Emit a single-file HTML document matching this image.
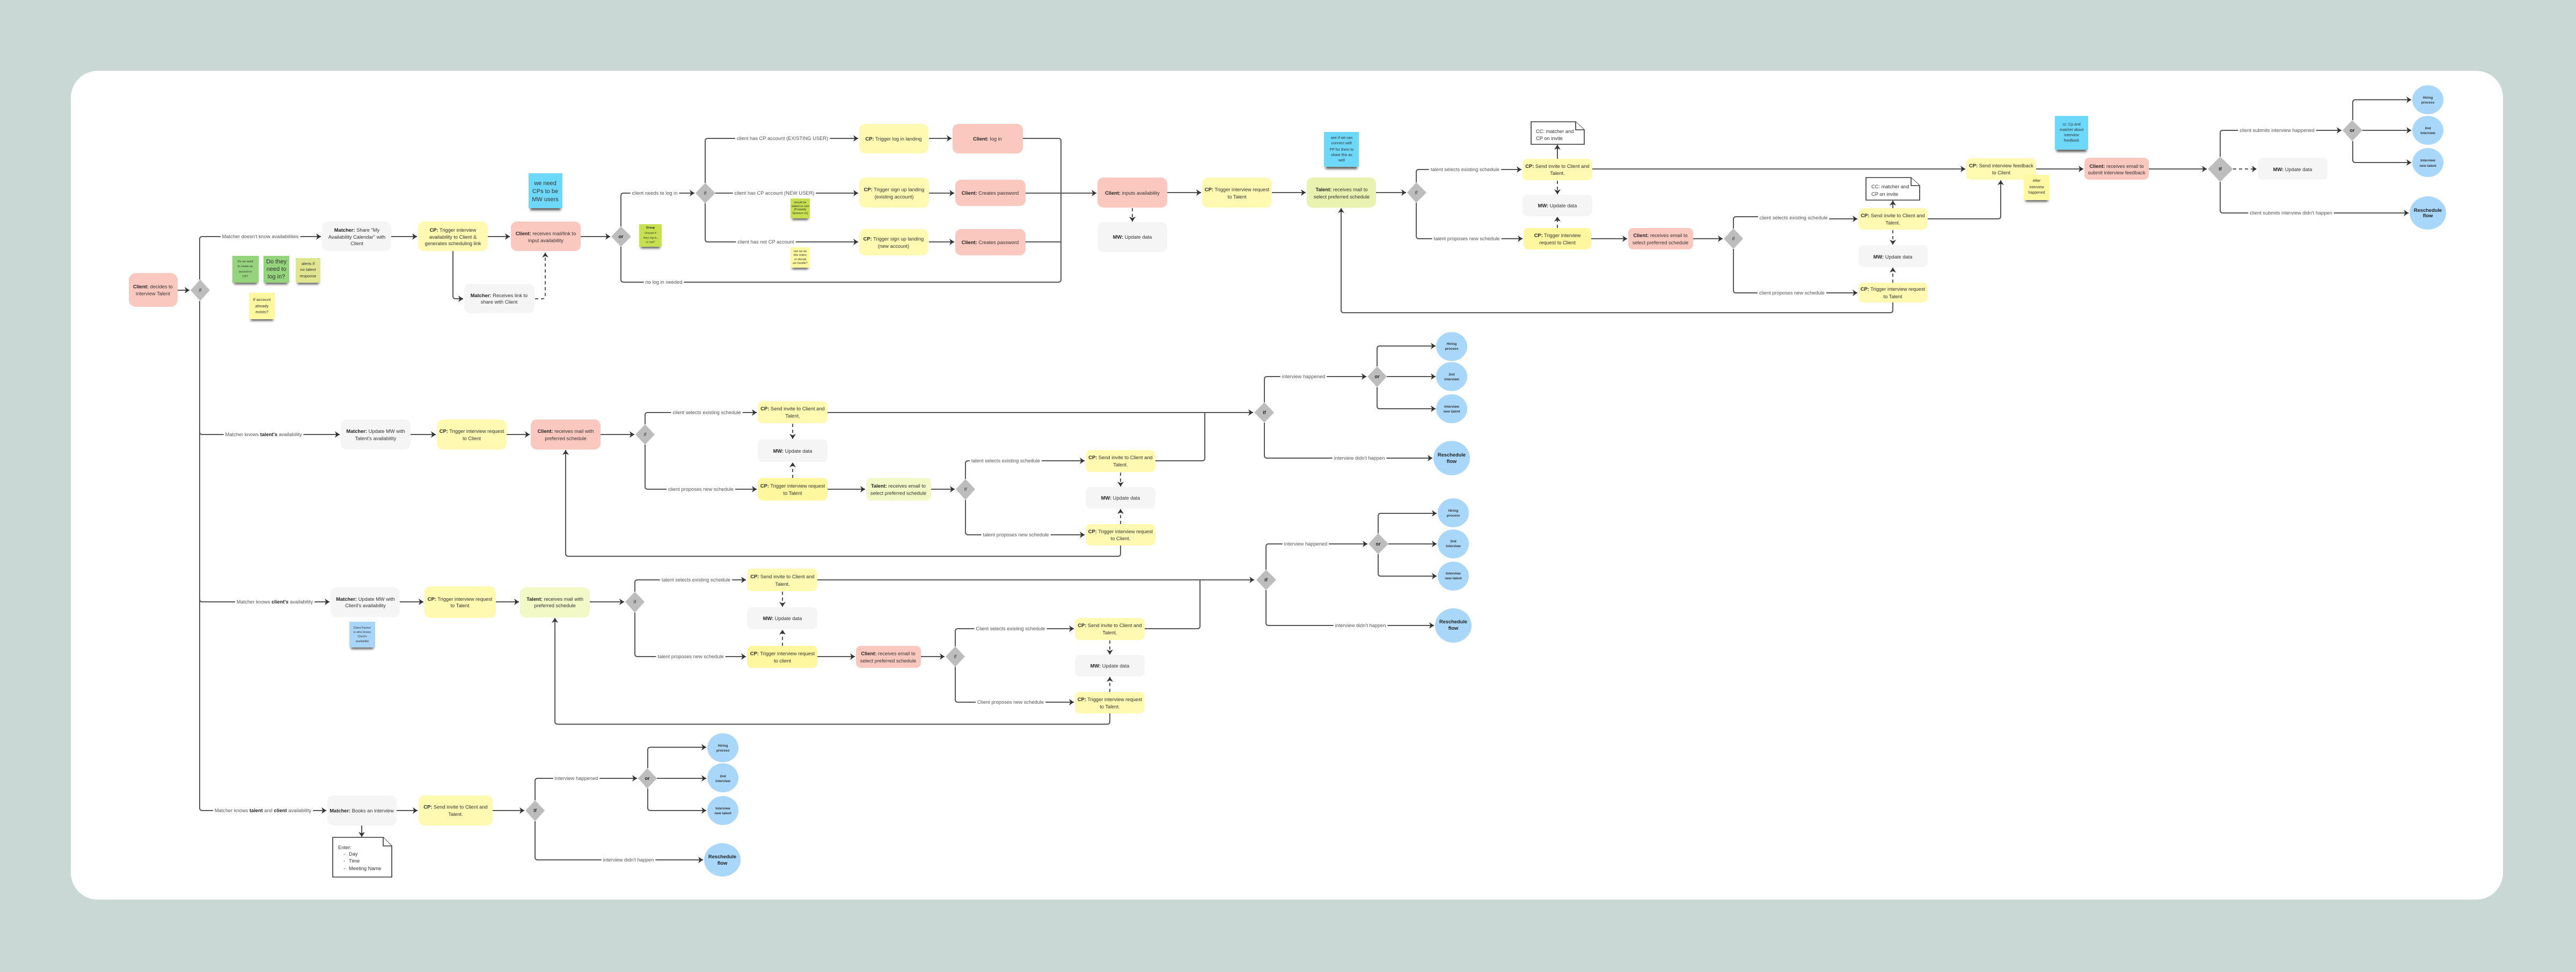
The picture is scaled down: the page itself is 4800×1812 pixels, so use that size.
<!DOCTYPE html>
<html lang="en"><head><meta charset="utf-8"><title>Interview scheduling flow</title>
<style>
html,body{margin:0;padding:0;background:#c9d8d4}
svg{display:block}
text{font-family:"Liberation Sans",sans-serif;font-size:9.3px;text-anchor:middle;fill:#333}
.b{font-weight:700;fill:#222}
.l{fill:none;stroke:#555;stroke-width:2;marker-end:url(#a)}
.n{fill:none;stroke:#555;stroke-width:2}
.d{fill:none;stroke:#555;stroke-width:2;stroke-dasharray:6 5;marker-end:url(#a)}
.lb{fill:#555;paint-order:stroke;stroke:#fff;stroke-width:7px;stroke-linejoin:round}
.cl{fill:#fbc8bf}.cp{fill:#fff9b1}.cq{fill:#fff6a0}.mw{fill:#f5f5f5}.ta{fill:#eaf2b0}.tb{fill:#f3f9c6}
.df{fill:#bdbdbd}.ci{fill:#a9d7fa}
.doc{fill:#fff;stroke:#333;stroke-width:1.6}
.sh{fill:#555;filter:url(#bl)}
.s6{font-size:5.4px}.s7{font-size:7px}.s8{font-size:7.6px}.s11{font-size:11px}.s12{font-size:12px}.c7{font-size:6.4px;font-weight:700;fill:#333}
.le{text-anchor:start}
</style></head><body>
<svg xmlns="http://www.w3.org/2000/svg" width="4800" height="1812" viewBox="0 0 4800 1812">
<defs>
<marker id="a" markerUnits="userSpaceOnUse" markerWidth="12" markerHeight="14" refX="9" refY="6" orient="auto"><path d="M0 0L9 6L0 12L2.5 6Z" fill="#333"/></marker>
<filter id="bl" x="-30%" y="-100%" width="160%" height="300%"><feGaussianBlur stdDeviation="2"/></filter>
</defs>
<rect width="4800" height="1812" fill="#c9d8d4"/>
<rect x="132" y="132" width="4532" height="1545" rx="50" fill="#fff"/>

<!-- connectors -->
<g>
<path class="l" d="M331 541H353"/>
<path class="l" d="M372 521V446Q372 441 377 441H598"/>
<path class="l" d="M372 561V1506Q372 1511 377 1511H608"/>
<path class="l" d="M372 805Q372 810 377 810H633"/>
<path class="l" d="M372 1117Q372 1122 377 1122H614"/>
<path class="l" d="M729 441H777"/><path class="l" d="M909 441H950"/><path class="l" d="M1082 441H1137"/>
<path class="l" d="M844 468V552Q844 557 849 557H863"/>
<path class="d" d="M997 557H1011Q1016 557 1016 552V471"/>
<path class="l" d="M1157 422V365Q1157 360 1162 360H1294"/>
<path class="l" d="M1333 360H1599"/>
<path class="l" d="M1314 341V263Q1314 258 1319 258H1599"/>
<path class="l" d="M1314 379V446Q1314 451 1319 451H1599"/>
<path class="n" d="M1157 460V521Q1157 526 1162 526H1972Q1977 526 1977 521V263Q1977 258 1972 258H1906"/>
<path class="l" d="M1731 258H1773"/><path class="l" d="M1731 360H1778"/><path class="l" d="M1731 451H1778"/>
<path class="l" d="M1911 360H2043"/><path class="n" d="M1911 451H1977"/>
<path class="l" d="M2175 359H2238"/><path class="l" d="M2370 359H2433"/><path class="l" d="M2564 359H2620"/>
<path class="d" d="M2110 388V413"/>
<path class="l" d="M2639 340V321Q2639 316 2644 316H2835"/>
<path class="l" d="M2639 378V440Q2639 445 2644 445H2837"/>
<path class="d" d="M2902 337V362"/><path class="d" d="M2902 425V404"/>
<path class="l" d="M2902 296V270"/>
<path class="l" d="M2967 315H3662"/>
<path class="l" d="M2965 445H3032"/><path class="l" d="M3155 445H3210"/>
<path class="n" d="M3230 426V409Q3230 404 3235 404H3340"/><path class="l" d="M3340 408H3461"/>
<path class="l" d="M3230 464V541Q3230 546 3235 546H3461"/>
<path class="l" d="M3527 388V374"/>
<path class="d" d="M3527 429V456"/><path class="d" d="M3527 527V499"/>
<path class="l" d="M3592 408H3723Q3728 408 3728 403V336"/>
<path class="l" d="M3527 564V578Q3527 583 3522 583H2504Q2499 583 2499 578V388"/>
<path class="l" d="M3794 315H3882"/><path class="l" d="M4004 315H4112"/>
<path class="d" d="M4161 315H4205"/>
<path class="l" d="M4137 292V248Q4137 243 4142 243H4363"/>
<path class="l" d="M4137 339V392Q4137 397 4142 397H4488"/>
<path class="l" d="M4384 224V191Q4384 186 4389 186H4493"/><path class="l" d="M4402 243H4493"/>
<path class="l" d="M4384 263V298Q4384 303 4389 303H4493"/>

<path class="l" d="M765 810H812"/><path class="l" d="M944 810H987"/><path class="l" d="M1119 810H1182"/>
<path class="l" d="M1202 791V774Q1202 769 1207 769H1410"/>
<path class="l" d="M1202 829V907Q1202 912 1207 912H1410"/>
<path class="d" d="M1477 790V818"/><path class="d" d="M1477 891V862"/>
<path class="l" d="M1542 769H2335"/>
<path class="l" d="M1542 912H1612"/><path class="l" d="M1735 912H1779"/>
<path class="l" d="M1799 893V864Q1799 859 1804 859H2021"/>
<path class="l" d="M1799 932V992Q1799 997 1804 997H2021"/>
<path class="d" d="M2088 881V907"/><path class="d" d="M2088 977V949"/>
<path class="n" d="M2153 859H2240Q2245 859 2245 854V769"/>
<path class="l" d="M2088 1017V1032Q2088 1037 2083 1037H1059Q1054 1037 1054 1032V839"/>
<path class="l" d="M2356 750V707Q2356 702 2361 702H2546"/>
<path class="l" d="M2356 788V849Q2356 854 2361 854H2669"/>
<path class="l" d="M2566 683V650Q2566 645 2571 645H2675"/><path class="l" d="M2584 702H2675"/>
<path class="l" d="M2566 722V757Q2566 762 2571 762H2675"/>

<path class="l" d="M745 1122H789"/><path class="l" d="M924 1122H967"/><path class="l" d="M1099 1122H1163"/>
<path class="l" d="M1183 1103V1086Q1183 1081 1188 1081H1390"/>
<path class="l" d="M1183 1142V1219Q1183 1224 1188 1224H1390"/>
<path class="d" d="M1458 1103V1131"/><path class="d" d="M1458 1204V1174"/>
<path class="l" d="M1523 1081H2337"/>
<path class="l" d="M1523 1224H1593"/><path class="l" d="M1716 1224H1760"/>
<path class="l" d="M1780 1205V1177Q1780 1172 1785 1172H2001"/>
<path class="l" d="M1780 1243V1304Q1780 1309 1785 1309H2001"/>
<path class="d" d="M2068 1194V1220"/><path class="d" d="M2068 1290V1262"/>
<path class="n" d="M2133 1172H2231Q2236 1172 2236 1167V1081"/>
<path class="l" d="M2068 1330V1345Q2068 1350 2063 1350H1039Q1034 1350 1034 1345V1152"/>
<path class="l" d="M2359 1062V1019Q2359 1014 2364 1014H2548"/>
<path class="l" d="M2359 1100V1161Q2359 1166 2364 1166H2672"/>
<path class="l" d="M2568 994V962Q2568 957 2573 957H2677"/><path class="l" d="M2587 1014H2677"/>
<path class="l" d="M2568 1033V1069Q2568 1074 2573 1074H2677"/>

<path class="l" d="M739 1511H778"/><path class="l" d="M918 1511H977"/>
<path class="l" d="M997 1492V1456Q997 1451 1002 1451H1187"/>
<path class="l" d="M997 1531V1598Q997 1603 1002 1603H1310"/>
<path class="l" d="M1207 1432V1398Q1207 1393 1212 1393H1316"/><path class="l" d="M1224 1451H1316"/>
<path class="l" d="M1207 1470V1506Q1207 1511 1212 1511H1316"/>
<path class="l" d="M674 1539V1560"/>
</g>

<!-- connector labels -->
<g>
<text class="lb" x="485" y="444">Matcher doesn't know availabilities</text>
<text class="lb" x="491" y="813">Matcher knows <tspan class="b">talent's</tspan> availability</text>
<text class="lb" x="512" y="1125">Matcher knows <tspan class="b">client's</tspan> availability</text>
<text class="lb" x="490" y="1514">Matcher knows <tspan class="b">talent</tspan> and <tspan class="b">client</tspan> availability</text>
<text class="lb" x="1220" y="363">client needs to log in</text>
<text class="lb" x="1458" y="261">client has CP account (EXISTING USER)</text>
<text class="lb" x="1443" y="363">client has CP account (NEW USER)</text>
<text class="lb" x="1427" y="454">client has not CP account</text>
<text class="lb" x="1237" y="529">no log in needed</text>
<text class="lb" x="2730" y="319">talent selects existing schedule</text>
<text class="lb" x="2733" y="448">talent proposes new schedule</text>
<text class="lb" x="3342" y="409">client selects existing schedule</text>
<text class="lb" x="3339" y="549">client proposes new schedule</text>
<text class="lb" x="4243" y="246">client submits interview happened</text>
<text class="lb" x="4269" y="400">client submits interview didn't happen</text>
<text class="lb" x="1317" y="772">client selects existing schedule</text>
<text class="lb" x="1306" y="915">client proposes new schedule</text>
<text class="lb" x="1874" y="862">talent selects existing schedule</text>
<text class="lb" x="1893" y="1000">talent proposes new schedule</text>
<text class="lb" x="2429" y="705">interview happened</text>
<text class="lb" x="2533" y="857">interview didn't happen</text>
<text class="lb" x="1297" y="1084">talent selects existing schedule</text>
<text class="lb" x="1287" y="1227">talent proposes new schedule</text>
<text class="lb" x="1883" y="1175">Client selects existing schedule</text>
<text class="lb" x="1883" y="1312">Client proposes new schedule</text>
<text class="lb" x="2433" y="1017">interview happened</text>
<text class="lb" x="2535" y="1169">interview didn't happen</text>
<text class="lb" x="1074" y="1454">interview happened</text>
<text class="lb" x="1171" y="1606">interview didn't happen</text>
</g>

<!-- nodes row 1 -->
<g>
<rect class="cl" x="240" y="509" width="91" height="63" rx="13"/><text x="285" y="537.5"><tspan class="b">Client:</tspan> decides to</text><text x="285" y="550.5">interview Talent</text>
<rect class="mw" x="600" y="413" width="129" height="55" rx="11"/><text x="665" y="432"><tspan class="b">Matcher:</tspan> Share "My</text><text x="665" y="445">Availability Calendar" with</text><text x="665" y="457">Client</text>
<rect class="cp" x="779" y="413" width="130" height="55" rx="11"/><text x="844" y="432"><tspan class="b">CP:</tspan> Trigger interview</text><text x="844" y="445">availability to Client &amp;</text><text x="844" y="457">generates scheduling link</text>
<rect class="cl" x="952" y="413" width="130" height="55" rx="11"/><text x="1017" y="438.500"><tspan class="b">Client:</tspan> receives mail/link to</text><text x="1017" y="451.500">input availability</text>
<rect class="mw" x="865" y="529" width="131" height="55" rx="11"/><text x="930" y="554"><tspan class="b">Matcher:</tspan> Receives link to</text><text x="930" y="566">share with Client</text>

<rect class="cp" x="1601" y="231" width="129" height="55" rx="11"/><text x="1665" y="262"><tspan class="b">CP:</tspan> Trigger log in landing</text>
<rect class="cl" x="1775" y="231" width="131" height="55" rx="11"/><text x="1840" y="262"><tspan class="b">Client:</tspan> log in</text>
<rect class="cp" x="1601" y="331" width="130" height="56" rx="11"/><text x="1666" y="356.500"><tspan class="b">CP:</tspan> Trigger sign up landing</text><text x="1666" y="370">(existing account)</text>
<rect class="cl" x="1780" y="335" width="131" height="49" rx="11"/><text x="1845" y="363"><tspan class="b">Client:</tspan> Creates password</text>
<rect class="cp" x="1601" y="427" width="129" height="49" rx="11"/><text x="1665" y="448.500"><tspan class="b">CP:</tspan> Trigger sign up landing</text><text x="1665" y="462">(new account)</text>
<rect class="cl" x="1780" y="427" width="131" height="49" rx="11"/><text x="1845" y="455"><tspan class="b">Client:</tspan> Creates password</text>

<rect class="cl" x="2045" y="331" width="130" height="56" rx="11"/><text x="2110" y="363"><tspan class="b">Client:</tspan> inputs availability</text>
<rect class="mw" x="2045" y="414" width="130" height="56" rx="11"/><text x="2110" y="445"><tspan class="b">MW:</tspan> Update data</text>
<rect class="cp" x="2240" y="331" width="130" height="56" rx="11"/><text x="2305" y="356.500"><tspan class="b">CP:</tspan> Trigger interview request</text><text x="2305" y="370">to Talent</text>
<rect class="ta" x="2435" y="331" width="129" height="56" rx="11"/><text x="2500" y="356.500"><tspan class="b">Talent:</tspan> receives mail to</text><text x="2500" y="370">select preferred schedule</text>

<rect class="cp" x="2837" y="296" width="130" height="40" rx="9"/><text x="2902" y="313"><tspan class="b">CP:</tspan> Send invite to Client and</text><text x="2902" y="326">Talent.</text>
<rect class="mw" x="2837" y="363" width="130" height="40" rx="9"/><text x="2902" y="386.500"><tspan class="b">MW:</tspan> Update data</text>
<rect class="cq" x="2839" y="425" width="126" height="40" rx="9"/><text x="2902" y="442"><tspan class="b">CP:</tspan> Trigger interview</text><text x="2902" y="455.500">request to Client</text>
<rect class="cl" x="3034" y="425" width="121" height="40" rx="9"/><text x="3094" y="442"><tspan class="b">Client:</tspan> receives email to</text><text x="3094" y="455.500">select preferred schedule</text>
<rect class="cp" x="3463" y="388" width="129" height="40" rx="9"/><text x="3527" y="405"><tspan class="b">CP:</tspan> Send invite to Client and</text><text x="3527" y="418.500">Talent.</text>
<rect class="mw" x="3463" y="457" width="129" height="41" rx="9"/><text x="3527" y="482"><tspan class="b">MW:</tspan> Update data</text>
<rect class="cp" x="3463" y="527" width="129" height="37" rx="9"/><text x="3527" y="542"><tspan class="b">CP:</tspan> Trigger interview request</text><text x="3527" y="556">to Talent</text>
<rect class="cp" x="3664" y="295" width="130" height="40" rx="9"/><text x="3729" y="312"><tspan class="b">CP:</tspan> Send interview feedback</text><text x="3729" y="325">to Client</text>
<rect class="cl" x="3884" y="294" width="120" height="41" rx="9"/><text x="3944" y="313"><tspan class="b">Client:</tspan> receives email to</text><text x="3944" y="325">submit interview feedback</text>
<rect class="mw" x="4207" y="294" width="130" height="41" rx="9"/><text x="4272" y="319"><tspan class="b">MW:</tspan> Update data</text>
</g>

<!-- nodes row 2 -->
<g>
<rect class="mw" x="635" y="782" width="130" height="56" rx="11"/><text x="700" y="807"><tspan class="b">Matcher:</tspan> Update MW with</text><text x="700" y="820.500">Talent's availability</text>
<rect class="cp" x="814" y="782" width="130" height="56" rx="11"/><text x="879" y="807"><tspan class="b">CP:</tspan> Trigger interview request</text><text x="879" y="820.500">to Client</text>
<rect class="cl" x="989" y="782" width="130" height="56" rx="11"/><text x="1054" y="807"><tspan class="b">Client:</tspan> receives mail with</text><text x="1054" y="820.500">preferred schedule</text>
<rect class="cp" x="1412" y="748" width="130" height="41" rx="9"/><text x="1477" y="765"><tspan class="b">CP:</tspan> Send invite to Client and</text><text x="1477" y="778.500">Talent.</text>
<rect class="mw" x="1412" y="819" width="130" height="42" rx="9"/><text x="1477" y="844"><tspan class="b">MW:</tspan> Update data</text>
<rect class="cq" x="1412" y="891" width="130" height="42" rx="9"/><text x="1477" y="909"><tspan class="b">CP:</tspan> Trigger interview request</text><text x="1477" y="922.500">to Talent</text>
<rect class="tb" x="1614" y="891" width="121" height="42" rx="9"/><text x="1674" y="909"><tspan class="b">Talent:</tspan> receives email to</text><text x="1674" y="922.500">select preferred schedule</text>
<rect class="cp" x="2023" y="839" width="130" height="41" rx="9"/><text x="2088" y="856"><tspan class="b">CP:</tspan> Send invite to Client and</text><text x="2088" y="869.500">Talent.</text>
<rect class="mw" x="2023" y="908" width="130" height="40" rx="9"/><text x="2088" y="931.500"><tspan class="b">MW:</tspan> Update data</text>
<rect class="cp" x="2023" y="977" width="130" height="40" rx="9"/><text x="2088" y="994"><tspan class="b">CP:</tspan> Trigger interview request</text><text x="2088" y="1007">to Client.</text>
</g>

<!-- nodes row 3 -->
<g>
<rect class="mw" x="616" y="1095" width="129" height="56" rx="11"/><text x="681" y="1120"><tspan class="b">Matcher:</tspan> Update MW with</text><text x="681" y="1132">Client's availability</text>
<rect class="cp" x="791" y="1093" width="133" height="59" rx="11"/><text x="857" y="1120"><tspan class="b">CP:</tspan> Trigger interview request</text><text x="857" y="1132">to Talent</text>
<rect class="tb" x="969" y="1095" width="130" height="56" rx="11"/><text x="1034" y="1120"><tspan class="b">Talent:</tspan> receives mail with</text><text x="1034" y="1132">preferred schedule</text>
<rect class="cp" x="1392" y="1060" width="131" height="42" rx="9"/><text x="1458" y="1078"><tspan class="b">CP:</tspan> Send invite to Client and</text><text x="1458" y="1092">Talent.</text>
<rect class="mw" x="1392" y="1132" width="131" height="41" rx="9"/><text x="1458" y="1156"><tspan class="b">MW:</tspan> Update data</text>
<rect class="cq" x="1392" y="1204" width="131" height="41" rx="9"/><text x="1458" y="1221.500"><tspan class="b">CP:</tspan> Trigger interview request</text><text x="1458" y="1235">to client</text>
<rect class="cl" x="1595" y="1204" width="121" height="41" rx="9"/><text x="1655" y="1221.500"><tspan class="b">Client:</tspan> receives email to</text><text x="1655" y="1235">select preferred schedule</text>
<rect class="cp" x="2003" y="1152" width="130" height="41" rx="9"/><text x="2068" y="1169"><tspan class="b">CP:</tspan> Send invite to Client and</text><text x="2068" y="1182.500">Talent.</text>
<rect class="mw" x="2003" y="1221" width="130" height="40" rx="9"/><text x="2068" y="1244.500"><tspan class="b">MW:</tspan> Update data</text>
<rect class="cp" x="2003" y="1290" width="130" height="40" rx="9"/><text x="2068" y="1307"><tspan class="b">CP:</tspan> Trigger interview request</text><text x="2068" y="1320.500">to Talent.</text>
</g>

<!-- nodes row 4 -->
<g>
<rect class="mw" x="610" y="1483" width="129" height="56" rx="11"/><text x="674" y="1514.500"><tspan class="b">Matcher:</tspan> Books an interview</text>
<rect class="cp" x="780" y="1483" width="138" height="56" rx="11"/><text x="849" y="1507.500"><tspan class="b">CP:</tspan> Send invite to Client and</text><text x="849" y="1521">Talent.</text>
</g>

<!-- diamonds -->
<g>
<path class="df" d="M373 521L391 541L373 561L355 541Z"/><text x="373" y="544">if</text>
<path class="df" d="M1157 422L1176 441L1157 460L1139 441Z"/><text class="b" x="1157" y="444">or</text>
<path class="df" d="M1314 341L1333 360L1314 379L1296 360Z"/><text x="1314" y="363">if</text>
<path class="df" d="M2639 340L2658 359L2639 378L2622 359Z"/><text x="2639" y="362">if</text>
<path class="df" d="M3230 426L3248 445L3230 464L3212 445Z"/><text x="3230" y="448">if</text>
<path class="df" d="M4137 292L4161 315L4137 339L4114 315Z"/><text class="b" x="4137" y="318">if</text>
<path class="df" d="M4383 224L4402 243L4383 263L4365 243Z"/><text class="b" x="4383" y="246">or</text>
<path class="df" d="M1202 791L1220 810L1202 829L1184 810Z"/><text x="1202" y="813">if</text>
<path class="df" d="M1799 893L1817 912L1799 932L1781 912Z"/><text x="1799" y="915">if</text>
<path class="df" d="M2356 750L2374 769L2356 788L2337 769Z"/><text class="b" x="2356" y="772">if</text>
<path class="df" d="M2566 683L2584 702L2566 722L2548 702Z"/><text class="b" x="2566" y="705">or</text>
<path class="df" d="M1183 1103L1201 1122L1183 1142L1165 1122Z"/><text x="1183" y="1125">if</text>
<path class="df" d="M1780 1205L1798 1224L1780 1243L1762 1224Z"/><text x="1780" y="1227">if</text>
<path class="df" d="M2359 1062L2378 1081L2359 1100L2341 1081Z"/><text class="b" x="2359" y="1084">if</text>
<path class="df" d="M2568 994L2587 1014L2568 1033L2550 1014Z"/><text class="b" x="2568" y="1017">or</text>
<path class="df" d="M997 1492L1015 1511L997 1531L979 1511Z"/><text class="b" x="997" y="1514">if</text>
<path class="df" d="M1206 1432L1224 1451L1206 1470L1189 1451Z"/><text class="b" x="1206" y="1454">or</text>
</g>

<!-- circles -->
<g>
<ellipse class="ci" cx="4524" cy="186" rx="29" ry="27"/><text class="c7" x="4524" y="184">Hiring</text><text class="c7" x="4524" y="193">process</text>
<ellipse class="ci" cx="4524" cy="243" rx="29" ry="27"/><text class="c7" x="4524" y="241">2nd</text><text class="c7" x="4524" y="250">interview</text>
<ellipse class="ci" cx="4524" cy="303" rx="29" ry="27"/><text class="c7" x="4524" y="301">Interview</text><text class="c7" x="4524" y="311">new talent</text>
<ellipse class="ci" cx="4524" cy="397" rx="34" ry="31"/><text class="b" x="4524" y="395">Reschedule</text><text class="b" x="4524" y="405">flow</text>

<ellipse class="ci" cx="2705" cy="646" rx="29" ry="27"/><text class="c7" x="2705" y="643">Hiring</text><text class="c7" x="2705" y="652">process</text>
<ellipse class="ci" cx="2705" cy="702" rx="29" ry="27"/><text class="c7" x="2705" y="700">2nd</text><text class="c7" x="2705" y="709">interview</text>
<ellipse class="ci" cx="2705" cy="762" rx="29" ry="27"/><text class="c7" x="2705" y="760">Interview</text><text class="c7" x="2705" y="769">new talent</text>
<ellipse class="ci" cx="2705" cy="854" rx="34" ry="32"/><text class="b" x="2705" y="851">Reschedule</text><text class="b" x="2705" y="863">flow</text>

<ellipse class="ci" cx="2708" cy="956" rx="29" ry="27"/><text class="c7" x="2708" y="954">Hiring</text><text class="c7" x="2708" y="963">process</text>
<ellipse class="ci" cx="2708" cy="1014" rx="29" ry="27"/><text class="c7" x="2708" y="1011">2nd</text><text class="c7" x="2708" y="1020">interview</text>
<ellipse class="ci" cx="2708" cy="1074" rx="29" ry="27"/><text class="c7" x="2708" y="1071">Interview</text><text class="c7" x="2708" y="1080">new talent</text>
<ellipse class="ci" cx="2708" cy="1166" rx="34" ry="32"/><text class="b" x="2708" y="1162">Reschedule</text><text class="b" x="2708" y="1174">flow</text>

<ellipse class="ci" cx="1347" cy="1394" rx="29" ry="27"/><text class="c7" x="1347" y="1392">Hiring</text><text class="c7" x="1347" y="1401">process</text>
<ellipse class="ci" cx="1347" cy="1450" rx="29" ry="27"/><text class="c7" x="1347" y="1449">2nd</text><text class="c7" x="1347" y="1458">interview</text>
<ellipse class="ci" cx="1347" cy="1511" rx="29" ry="27"/><text class="c7" x="1347" y="1509">Interview</text><text class="c7" x="1347" y="1518">new talent</text>
<ellipse class="ci" cx="1346" cy="1603" rx="34" ry="31"/><text class="b" x="1346" y="1600">Reschedule</text><text class="b" x="1346" y="1612">flow</text>
</g>

<!-- documents -->
<g>
<path class="doc" d="M2853 227H2936L2952 242V269H2853Z"/><path class="doc" d="M2936 227V242H2952"/>
<text class="le" x="2862" y="248">CC: matcher and</text><text class="le" x="2862" y="261">CP on invite</text>
<path class="doc" d="M3477 331H3561L3577 346V373H3477Z"/><path class="doc" d="M3561 331V346H3577"/>
<text class="le" x="3487" y="351">CC: matcher and</text><text class="le" x="3487" y="365">CP on invite</text>
<path class="doc" d="M620 1561H714L730 1577V1635H620Z"/><path class="doc" d="M714 1561V1577H730"/>
<text class="le" x="630" y="1583">Enter:</text>
<text class="le" x="640" y="1595">-</text><text class="le" x="650" y="1595">Day</text>
<text class="le" x="640" y="1608">-</text><text class="le" x="650" y="1608">Time</text>
<text class="le" x="640" y="1622">-</text><text class="le" x="650" y="1622">Meeting Name</text>
</g>

<!-- sticky notes -->
<g>
<rect class="sh" x="988" y="386" width="57" height="6"/><rect x="985" y="323" width="63" height="65" fill="#6ed8fa"/>
<text class="s11" x="1016" y="345">we need</text><text class="s11" x="1016" y="360">CPs to be</text><text class="s11" x="1016" y="375">MW users</text>

<rect class="sh" x="436" y="525" width="43" height="5"/><rect x="433" y="477" width="49" height="50" fill="#95d47c"/>
<text class="s6" x="457" y="489">Do we need</text><text class="s6" x="457" y="498">to create an</text><text class="s6" x="457" y="508">account in</text><text class="s6" x="457" y="517">CP?</text>
<rect class="sh" x="494" y="525" width="42" height="5"/><rect x="491" y="477" width="48" height="50" fill="#95d47c"/>
<text class="s11" x="515" y="491">Do they</text><text class="s11" x="515" y="505">need to</text><text class="s11" x="515" y="519">log in?</text>
<rect class="sh" x="554" y="525" width="40" height="5"/><rect x="551" y="481" width="46" height="46" fill="#dfe68f"/>
<text class="s8" x="574" y="494">alerts if</text><text class="s8" x="574" y="505">no talent</text><text class="s8" x="574" y="517">response</text>
<rect class="sh" x="467" y="593" width="42" height="5"/><rect x="464" y="546" width="48" height="49" fill="#fef9a0"/>
<text class="s8" x="488" y="561">If account</text><text class="s8" x="488" y="573">already</text><text class="s8" x="488" y="584">exists?</text>

<rect class="sh" x="1194" y="458" width="36" height="5"/><rect x="1191" y="418" width="42" height="42" fill="#c6e04f"/>
<text class="s6 b" x="1212" y="426">Group</text><text class="s6" x="1212" y="436">Unsure if</text><text class="s6" x="1212" y="445">they log in,</text><text class="s6" x="1212" y="453">or not?</text>
<rect class="sh" x="1476" y="405" width="30" height="5"/><rect x="1473" y="370" width="36" height="37" fill="#c6e04f"/>
<text class="s6" x="1491" y="379">should be</text><text class="s6" x="1491" y="386">added on last</text><text class="s6" x="1491" y="392">(Probably</text><text class="s6" x="1491" y="399">Sponsor on)</text>
<rect class="sh" x="1476" y="497" width="30" height="5"/><rect x="1473" y="461" width="36" height="38" fill="#fef9a0"/>
<text class="s6" x="1491" y="470">can we do</text><text class="s6" x="1491" y="477">this online</text><text class="s6" x="1491" y="485">or should</text><text class="s6" x="1491" y="492">we handle?</text>

<rect class="sh" x="2470" y="309" width="59" height="6"/><rect x="2467" y="246" width="65" height="65" fill="#6ed8fa"/>
<text class="s7" x="2500" y="259">see if we can</text><text class="s7" x="2500" y="269">connect with</text><text class="s7" x="2500" y="281">FP for them to</text><text class="s7" x="2500" y="291">share this as</text><text class="s7" x="2500" y="301">well</text>

<rect class="sh" x="3774" y="371" width="42" height="5"/><rect x="3771" y="326" width="48" height="47" fill="#fef9a0"/>
<text class="s7" x="3795" y="339">After</text><text class="s7" x="3795" y="351">interview</text><text class="s7" x="3795" y="361">happened</text>
<rect class="sh" x="3832" y="277" width="56" height="6"/><rect x="3829" y="216" width="62" height="63" fill="#6ed8fa"/>
<text class="s7" x="3860" y="234">cc: Cp and</text><text class="s7" x="3860" y="244">matcher about</text><text class="s7" x="3860" y="254">interview</text><text class="s7" x="3860" y="264">feedback</text>

<rect class="sh" x="654" y="1205" width="42" height="5"/><rect x="651" y="1159" width="48" height="48" fill="#a9d6f8"/>
<text class="s6" x="675" y="1172">Client Partner</text><text class="s6" x="675" y="1180">is who knows</text><text class="s6" x="675" y="1188">Client's</text><text class="s6" x="675" y="1197">availability</text>
</g>
</svg>
</body></html>
